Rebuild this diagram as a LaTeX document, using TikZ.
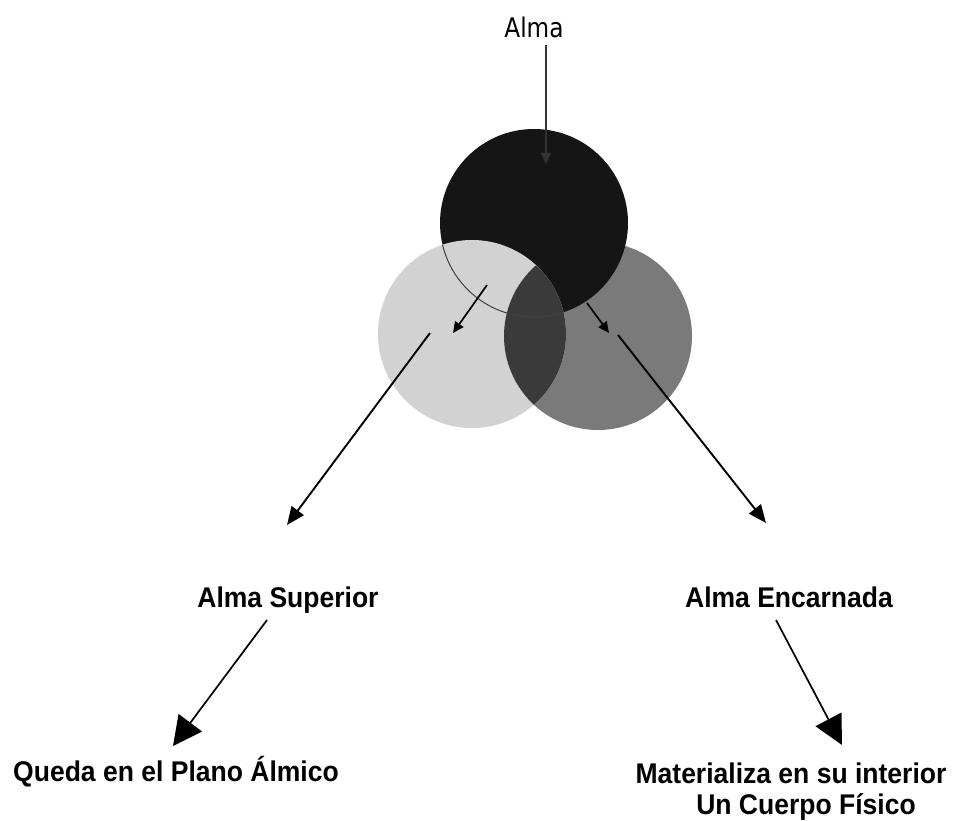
\documentclass[tikz,border=0pt]{standalone}
\usepackage{fontspec}
\setmainfont{Liberation Sans}
\newfontfamily\lblfont[FakeStretch=0.93]{Liberation Sans}
\newfontfamily\almafont[FakeStretch=0.86]{DejaVu Sans}
\usetikzlibrary{arrows.meta}
\definecolor{topc}{HTML}{151515}
\definecolor{leftc}{HTML}{D2D2D2}
\definecolor{rightc}{HTML}{7A7A7A}
\definecolor{lensc}{HTML}{3A3A3A}
\begin{document}
\begin{tikzpicture}[x=1pt,y=-1pt,
  lbl/.style={font=\fontsize{28.5pt}{31pt}\selectfont\lblfont\bfseries, inner sep=0pt, anchor=base},
  smallarr/.style={line width=1.7pt, -{Triangle[length=11pt,width=10pt]}},
  midarr/.style={line width=1.9pt, -{Triangle[length=18pt,width=15pt]}},
  bigarr/.style={line width=1.7pt, -{Triangle[length=29pt,width=29pt]}}]
\useasboundingbox (0,0) rectangle (954,821);
\fill[white] (0,0) rectangle (954,821);
% circle centres
\coordinate (T) at (534,223);
\coordinate (L) at (472,334);
\coordinate (R) at (598,336);
% circles
\fill[rightc] (R) circle[radius=94pt];
\fill[topc] (T) circle[radius=94pt];
\fill[leftc] (L) circle[radius=94pt];
\begin{scope}
  \clip (L) circle[radius=94pt];
  \fill[lensc] (R) circle[radius=94pt];
  \draw[black!75, line width=1pt] (T) circle[radius=94pt];
\end{scope}
% labels
\node[lbl, font=\fontsize{27pt}{31pt}\selectfont\almafont] (alma) at (534,38) {Alma};
\node[lbl] (sup) at (288,607) {Alma Superior};
\node[lbl] (enc) at (789,607) {Alma Encarnada};
\node[lbl] (queda) at (176,781) {Queda en el Plano Álmico};
\node[lbl] (mat) at (791,783) {Materializa en su interior};
\node[lbl] (cuerpo) at (806,814) {Un Cuerpo Físico};
% connector points
\coordinate (almaOut) at (546,45);
\coordinate (almaTip) at (546,164);
\coordinate (ls1) at (487,285);
\coordinate (ls2) at (453,333);
\coordinate (rs1) at (587,303);
\coordinate (rs2) at (609,333);
\coordinate (ll1) at (430,333);
\coordinate (ll2) at (287,525);
\coordinate (rl1) at (618,335);
\coordinate (rl2) at (766,523);
\coordinate (supOut) at (267,620);
\coordinate (queTip) at (173,746);
\coordinate (encOut) at (776,620);
\coordinate (matTip) at (842,745);
% arrows
\draw[smallarr, black!80] (almaOut) -- (almaTip);
\draw[smallarr] (ls1) -- (ls2);
\draw[smallarr] (rs1) -- (rs2);
\draw[midarr] (ll1) -- (ll2);
\draw[midarr] (rl1) -- (rl2);
\draw[bigarr] (supOut) -- (queTip);
\draw[bigarr] (encOut) -- (matTip);
\end{tikzpicture}
\end{document}
